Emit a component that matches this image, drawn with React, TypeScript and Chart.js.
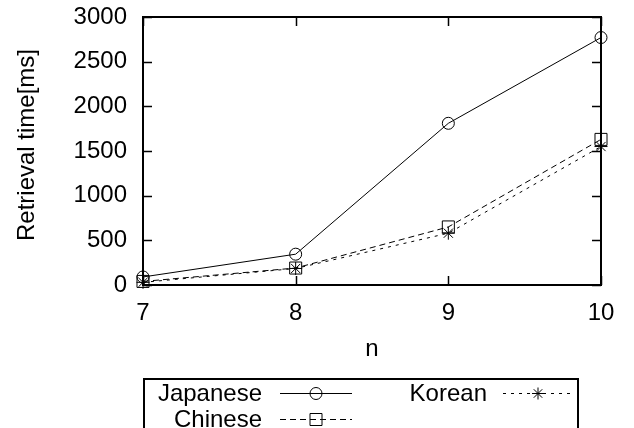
import React, { useEffect, useRef } from "react";
import { Chart, registerables } from "chart.js";

Chart.register(...registerables);

const nValues = [7, 8, 9, 10];
const japanese = [90, 345, 1810, 2770];
const chinese = [40, 190, 650, 1630];
const korean = [30, 185, 580, 1550];
const yTicks = { min: 0, max: 3000, step: 500 };
const xTicks = { min: 7, max: 10, step: 1 };
const seriesNames = ["Japanese", "Chinese", "Korean"];

const FONT = "'Liberation Sans', Arial, Helvetica, sans-serif";
const FS = 24;

function drawMarker(ctx: CanvasRenderingContext2D, style: string, x: number, y: number) {
  ctx.save();
  ctx.strokeStyle = "#000";
  ctx.lineWidth = 1;
  ctx.setLineDash([]);
  ctx.beginPath();
  if (style === "circle") {
    ctx.arc(x, y, 6, 0, Math.PI * 2);
  } else if (style === "rect") {
    ctx.rect(x - 6, y - 6, 12, 12);
  } else {
    const r = 6;
    ctx.moveTo(x - r, y); ctx.lineTo(x + r, y);
    ctx.moveTo(x, y - r); ctx.lineTo(x, y + r);
    const d = r * Math.SQRT1_2;
    ctx.moveTo(x - d, y - d); ctx.lineTo(x + d, y + d);
    ctx.moveTo(x - d, y + d); ctx.lineTo(x + d, y - d);
  }
  ctx.stroke();
  ctx.restore();
}

const framePlugin = {
  id: "frame",
  beforeDatasetsDraw(chart: any) {
    const { ctx, chartArea } = chart;
    const { left, right, top, bottom } = chartArea;
    const xs = chart.scales.x;
    const ys = chart.scales.y;
    ctx.save();
    ctx.strokeStyle = "#000";
    ctx.lineWidth = 1.5;
    const tl = 9;
    ctx.beginPath();
    ys.ticks.forEach((t: any) => {
      const py = Math.round(ys.getPixelForValue(t.value)) + 0.5;
      ctx.moveTo(left, py); ctx.lineTo(left + tl, py);
      ctx.moveTo(right, py); ctx.lineTo(right - tl, py);
    });
    xs.ticks.forEach((t: any) => {
      const px = Math.round(xs.getPixelForValue(t.value)) + 0.5;
      ctx.moveTo(px, bottom); ctx.lineTo(px, bottom - tl);
      ctx.moveTo(px, top); ctx.lineTo(px, top + tl);
    });
    ctx.stroke();
    ctx.lineWidth = 2;
    ctx.strokeRect(left, top, right - left, bottom - top);
    ctx.restore();
  },
  afterDraw(chart: any) {
    const { ctx } = chart;
    ctx.save();
    ctx.fillStyle = "#000";
    ctx.font = `${FS}px ${FONT}`;
    // y title
    ctx.save();
    ctx.translate(27.5, 145);
    ctx.rotate(-Math.PI / 2);
    ctx.textAlign = "center";
    ctx.textBaseline = "middle";
    ctx.fillText("Retrieval time[ms]", 0, 0);
    ctx.restore();
    // legend box
    ctx.strokeStyle = "#000";
    ctx.lineWidth = 2;
    ctx.strokeRect(144, 379, 434, 80);
    ctx.textAlign = "right";
    ctx.textBaseline = "middle";
    const entries = [
      { name: seriesNames[0], tx: 262, y: 393, x0: 280, x1: 352, dash: [] as number[], m: "circle" },
      { name: seriesNames[1], tx: 262, y: 419, x0: 280, x1: 352, dash: [6, 4], m: "rect" },
      { name: seriesNames[2], tx: 487, y: 393, x0: 503, x1: 573, dash: [3, 5], m: "star" },
    ];
    entries.forEach((e) => {
      ctx.fillText(e.name, e.tx, e.y + 1);
      ctx.save();
      ctx.lineWidth = 1;
      ctx.setLineDash(e.dash);
      ctx.beginPath();
      ctx.moveTo(e.x0, e.y + 0.5);
      ctx.lineTo(e.x1, e.y + 0.5);
      ctx.stroke();
      ctx.restore();
      drawMarker(ctx, e.m, (e.x0 + e.x1) / 2, e.y + 0.5);
    });
    ctx.restore();
  },
};

export default function App() {
  const ref = useRef<HTMLCanvasElement | null>(null);
  useEffect(() => {
    if (!ref.current) return;
    Chart.defaults.font.family = FONT;
    const mk = (arr: number[]) => nValues.map((n, i) => ({ x: n, y: arr[i] }));
    const chart = new Chart(ref.current, {
      type: "line",
      data: {
        datasets: [
          {
            label: seriesNames[0],
            data: mk(japanese),
            borderColor: "#000",
            borderWidth: 1,
            pointStyle: "circle",
            pointRadius: 6,
            pointBorderColor: "#000",
            pointBackgroundColor: "rgba(0,0,0,0)",
            pointBorderWidth: 1,
            clip: false as any,
          },
          {
            label: seriesNames[1],
            data: mk(chinese),
            borderColor: "#000",
            borderWidth: 1,
            borderDash: [6, 4],
            pointStyle: "rect",
            pointRadius: 8.5,
            pointBorderColor: "#000",
            pointBackgroundColor: "rgba(0,0,0,0)",
            pointBorderWidth: 1,
            clip: false as any,
          },
          {
            label: seriesNames[2],
            data: mk(korean),
            borderColor: "#000",
            borderWidth: 1,
            borderDash: [3, 5],
            pointStyle: "star",
            pointRadius: 6.5,
            pointBorderColor: "#000",
            pointBackgroundColor: "rgba(0,0,0,0)",
            pointBorderWidth: 1,
            clip: false as any,
          },
        ],
      },
      options: {
        responsive: false,
        animation: false,
        layout: { padding: { top: 17, right: 33, left: 0, bottom: 0 } },
        plugins: { legend: { display: false }, tooltip: { enabled: false } },
        scales: {
          x: {
            type: "linear",
            min: xTicks.min,
            max: xTicks.max,
            ticks: { stepSize: xTicks.step, color: "#000", font: { size: FS }, padding: 14, callback: (v: any) => String(v) },
            grid: { display: false, drawTicks: false },
            border: { display: false },
            title: { display: true, text: "n", color: "#000", font: { size: FS }, padding: { top: 0, bottom: 64 } },
            afterFit: (s: any) => { s.height = 143; s.paddingLeft = 0; s.paddingRight = 0; },
          },
          y: {
            min: yTicks.min,
            max: yTicks.max,
            ticks: { stepSize: yTicks.step, color: "#000", font: { size: FS }, padding: 16, callback: (v: any) => String(v) },
            grid: { display: false, drawTicks: false },
            border: { display: false },
            afterFit: (s: any) => { s.width = 143; s.paddingTop = 0; s.paddingBottom = 0; },
          },
        },
      },
      plugins: [framePlugin],
    });
    return () => chart.destroy();
  }, []);
  return (
    <div style={{ position: "absolute", left: 0, top: 0, width: 634, height: 428, background: "#fff" }}>
      <canvas ref={ref} width={634} height={428} style={{ display: "block", width: 634, height: 428 }} />
    </div>
  );
}
